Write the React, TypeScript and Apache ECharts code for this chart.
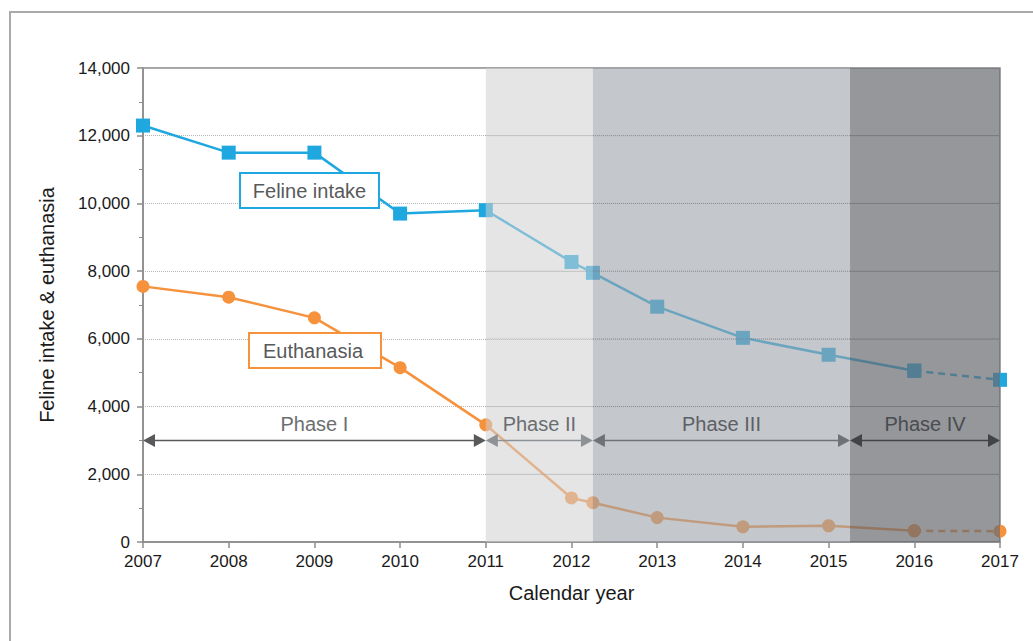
import React, { useEffect, useRef } from "react";
import * as echarts from "echarts";

// ---- Data ----
const years = [2007, 2008, 2009, 2010, 2011, 2012, 2012.25, 2013, 2014, 2015, 2016, 2017];
const felineIntake = [12300, 11500, 11500, 9700, 9800, 8270, 7950, 6950, 6030, 5530, 5060, 4790];
const euthanasia = [7550, 7230, 6620, 5150, 3460, 1300, 1160, 720, 450, 480, 330, 320];

const phaseNames = ["Phase I", "Phase II", "Phase III", "Phase IV"];
const phaseStart = [2007, 2011, 2012.25, 2015.25];
const phaseEnd = [2011, 2012.25, 2015.25, 2017];
const phaseArrowLevel = 3000;

const yMin = 0;
const yMax = 14000;
const yInterval = 2000;
const xMin = 2007;
const xMax = 2017;

// ---- Styles ----
const BLUE = "#1fa8e0";
const ORANGE = "#f6913c";
const FONT = '"Liberation Sans", Arial, sans-serif';
const shadeColors = [
  "rgba(0,0,0,0)",
  "rgba(208,208,210,0.55)",
  "rgba(156,162,168,0.6)",
  "rgba(104,107,112,0.7)",
];
const shadeGridColors = ["rgba(0,0,0,0)", "rgba(150,150,150,0.5)", "rgba(120,122,125,0.6)", "rgba(90,92,95,0.6)"];
const arrowColors = ["#58595b", "#8e9296", "#6f7377", "#414346"];
const phaseTextColors = ["#6d6e70", "#6a6d70", "#5d6064", "#4a4c4f"];

const pairs = (ys: number[], from: number, to: number) =>
  years.slice(from, to).map((x, i) => [x, ys[from + i]]);

export default function App() {
  const ref = useRef<HTMLDivElement>(null);

  useEffect(() => {
    if (!ref.current) return;
    const chart = echarts.init(ref.current, undefined, { renderer: "svg" });
    const last = years.length - 1;

    const phaseData = phaseStart.map((s, i) => [s, phaseEnd[i], i]);

    const option: any = {
      animation: false,
      backgroundColor: "#ffffff",
      textStyle: { fontFamily: FONT },
      grid: {
        left: 143,
        right: 33,
        top: 68,
        bottom: 99,
        show: true,
        borderColor: "#858585",
        borderWidth: 1.5,
        backgroundColor: "transparent",
      },
      xAxis: {
        type: "value",
        min: xMin,
        max: xMax,
        interval: 1,
        name: "Calendar year",
        nameLocation: "middle",
        nameGap: 41,
        nameTextStyle: { fontSize: 20, color: "#1a1a1a", fontFamily: FONT },
        axisLine: { show: true, lineStyle: { color: "#8c8c8c", width: 1.5 } },
        axisTick: { show: true, length: 6, lineStyle: { color: "#8c8c8c", width: 1.5 } },
        axisLabel: {
          formatter: (v: number) => String(v),
          fontSize: 17,
          color: "#1a1a1a",
          margin: 11,
          fontFamily: FONT,
        },
        splitLine: { show: false },
      },
      yAxis: {
        type: "value",
        min: yMin,
        max: yMax,
        interval: yInterval,
        name: "Feline intake & euthanasia",
        nameLocation: "middle",
        nameGap: 86,
        nameTextStyle: { fontSize: 20, color: "#1a1a1a", fontFamily: FONT },
        axisLine: { show: true, lineStyle: { color: "#8c8c8c", width: 1.5 } },
        axisTick: { show: true, length: 6, lineStyle: { color: "#8c8c8c", width: 1.5 } },
        minorTick: { show: true, splitNumber: 2, length: 4, lineStyle: { color: "#8c8c8c", width: 1 } },
        axisLabel: {
          formatter: (v: number) => v.toLocaleString("en-US"),
          fontSize: 17,
          color: "#1a1a1a",
          margin: 13,
          fontFamily: FONT,
        },
        splitLine: { show: true, lineStyle: { color: "#b4b4b4", type: "dotted", width: 1 } },
      },
      graphic: [
        {
          type: "rect",
          z: 0,
          silent: true,
          shape: { x: 10, y: 12, width: 1100, height: 680 },
          style: { fill: "none", stroke: "#a9a9a9", lineWidth: 2 },
        },
        {
          type: "group",
          z: 100,
          children: [
            {
              type: "rect",
              z: 100,
              shape: { x: 240, y: 173, width: 139, height: 35 },
              style: { fill: "#ffffff", stroke: BLUE, lineWidth: 2 },
            },
            {
              type: "text",
              z: 101,
              style: {
                text: "Feline intake",
                x: 309.5,
                y: 191,
                align: "center",
                verticalAlign: "middle",
                fill: "#58595b",
                font: `20px ${FONT}`,
              },
            },
            {
              type: "rect",
              z: 100,
              shape: { x: 249, y: 333, width: 132, height: 35 },
              style: { fill: "#ffffff", stroke: ORANGE, lineWidth: 2 },
            },
            {
              type: "text",
              z: 101,
              style: {
                text: "Euthanasia",
                x: 313,
                y: 351,
                align: "center",
                verticalAlign: "middle",
                fill: "#58595b",
                font: `20px ${FONT}`,
              },
            },
          ],
        },
      ],
      series: [
        {
          name: "Feline intake",
          type: "line",
          z: 2,
          data: pairs(felineIntake, 0, last),
          symbol: "rect",
          symbolSize: 14,
          itemStyle: { color: BLUE },
          lineStyle: { color: BLUE, width: 2.5 },
        },
        {
          name: "Feline intake (projected)",
          type: "line",
          z: 2,
          data: pairs(felineIntake, last - 1, last + 1),
          symbol: "rect",
          symbolSize: 14,
          itemStyle: { color: BLUE },
          lineStyle: { color: BLUE, width: 2.5, type: [7, 5] },
        },
        {
          name: "Euthanasia",
          type: "line",
          z: 2,
          data: pairs(euthanasia, 0, last),
          symbol: "circle",
          symbolSize: 13,
          itemStyle: { color: ORANGE },
          lineStyle: { color: ORANGE, width: 2.5 },
        },
        {
          name: "Euthanasia (projected)",
          type: "line",
          z: 2,
          data: pairs(euthanasia, last - 1, last + 1),
          symbol: "circle",
          symbolSize: 13,
          itemStyle: { color: ORANGE },
          lineStyle: { color: ORANGE, width: 2.5, type: [7, 5] },
        },
        {
          name: "Phase shading",
          type: "custom",
          z: 5,
          silent: true,
          data: phaseData,
          encode: { x: [0, 1], y: 2 },
          renderItem: (params: any, api: any) => {
            const i = api.value(2);
            if (i === 0) return null;
            const x0 = api.value(0);
            const x1 = api.value(1);
            const p0 = api.coord([x0, yMax]);
            const p1 = api.coord([x1, yMin]);
            const children: any[] = [
              {
                type: "rect",
                shape: { x: p0[0], y: p0[1], width: p1[0] - p0[0], height: p1[1] - p0[1] },
                style: { fill: shadeColors[i] },
              },
            ];
            for (let v = yMin + yInterval; v < yMax; v += yInterval) {
              const a = api.coord([x0, v]);
              const b = api.coord([x1, v]);
              children.push({
                type: "line",
                shape: { x1: a[0], y1: a[1], x2: b[0], y2: b[1] },
                style: { stroke: shadeGridColors[i], lineWidth: 1, lineDash: [1, 1] },
              });
            }
            return { type: "group", children };
          },
        },
        {
          name: "Phase arrows",
          type: "custom",
          z: 6,
          silent: true,
          data: phaseData,
          encode: { x: [0, 1], y: 2 },
          renderItem: (params: any, api: any) => {
            const i = api.value(2);
            const p0 = api.coord([api.value(0), phaseArrowLevel]);
            const p1 = api.coord([api.value(1), phaseArrowLevel]);
            const y = p0[1];
            const c = arrowColors[i];
            const aw = 12;
            const ah = 6.5;
            return {
              type: "group",
              children: [
                {
                  type: "line",
                  shape: { x1: p0[0] + aw - 1, y1: y, x2: p1[0] - aw + 1, y2: y },
                  style: { stroke: c, lineWidth: 1.5 },
                },
                {
                  type: "polygon",
                  shape: { points: [[p0[0], y], [p0[0] + aw, y - ah], [p0[0] + aw, y + ah]] },
                  style: { fill: c },
                },
                {
                  type: "polygon",
                  shape: { points: [[p1[0], y], [p1[0] - aw, y - ah], [p1[0] - aw, y + ah]] },
                  style: { fill: c },
                },
                {
                  type: "text",
                  style: {
                    text: phaseNames[i],
                    x: (p0[0] + p1[0]) / 2,
                    y: y - 16,
                    align: "center",
                    verticalAlign: "middle",
                    fill: phaseTextColors[i],
                    font: `20px ${FONT}`,
                  },
                },
              ],
            };
          },
        },
      ],
    };

    chart.setOption(option);
    return () => chart.dispose();
  }, []);

  return (
    <div
      ref={ref}
      style={{ position: "fixed", left: 0, top: 0, width: 1033, height: 641, background: "#fff" }}
    />
  );
}
